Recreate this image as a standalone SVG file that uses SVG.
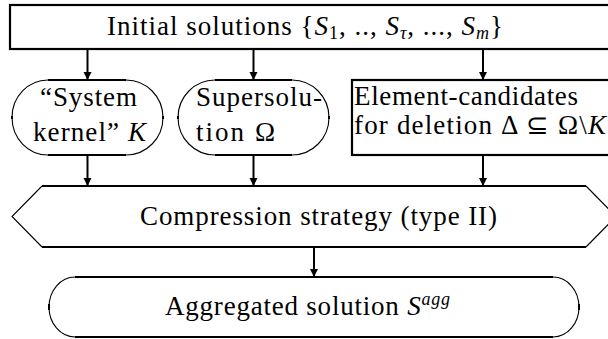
<svg xmlns="http://www.w3.org/2000/svg" width="608" height="339" viewBox="0 0 608 339">
<defs>
<marker id="ah" markerWidth="8" markerHeight="12" refX="7" refY="4" orient="auto" markerUnits="userSpaceOnUse">
<path d="M0,0 L8,4 L0,8 Z" fill="#000"/>
</marker>
<style>
.thick{fill:none;stroke:#000;stroke-width:2.2}
.thin{fill:none;stroke:#000;stroke-width:1.1}
.tick{fill:none;stroke:#000;stroke-width:2}
text{font-family:'Liberation Serif','Times New Roman',serif;font-size:27px;fill:#000}
.i{font-style:italic}
.conn{fill:none;stroke:#000;stroke-width:2}
</style>
</defs>
<rect width="608" height="339" fill="#fff"/>
<g id="initial">
<rect class="thick" x="10" y="5" width="610" height="44"/>
<text x="107" y="35" textLength="396" lengthAdjust="spacing">Initial solutions {<tspan class="i">S</tspan><tspan font-size="18" dy="4">1</tspan><tspan dy="-4">, .., </tspan><tspan class="i">S</tspan><tspan class="i" font-size="18" dy="4">τ</tspan><tspan dy="-4">, ..., </tspan><tspan class="i">S</tspan><tspan class="i" font-size="18" dy="4">m</tspan><tspan dy="-4">}</tspan></text>
</g>
<g id="kernel">
<path class="thick" d="M48,80 H126 M48,155 H126"/>
<path class="thin" d="M48,80 A36,37.5 0 0 0 48,155 M126,80 A37,37.5 0 0 1 126,155"/>
<path class="tick" d="M12,116 V119 M163,116 V119"/>
<text x="40" y="106" textLength="97" lengthAdjust="spacing">“System</text>
<text x="33" y="141" textLength="113" lengthAdjust="spacing">kernel” <tspan class="i">K</tspan></text>
</g>
<g id="supersolution">
<path class="thick" d="M215,80 H292 M215,155 H292"/>
<path class="thin" d="M215,80 A37,37.5 0 0 0 215,155 M292,80 A37,37.5 0 0 1 292,155"/>
<path class="tick" d="M178,116 V119 M329,116 V119"/>
<text x="196" y="106" textLength="126" lengthAdjust="spacing">Supersolu-</text>
<text x="196" y="141" textLength="79" lengthAdjust="spacing">tion Ω</text>
</g>
<g id="candidates">
<rect class="thick" x="352" y="80" width="270" height="75"/>
<text x="354" y="105" font-size="22" textLength="224" lengthAdjust="spacing">Element-candidates</text>
<text x="354" y="134" font-size="22" textLength="252" lengthAdjust="spacing">for deletion Δ ⊆ Ω\<tspan class="i">K</tspan></text>
</g>
<g id="compression">
<path class="thick" d="M42,186 H586 M42,247 H586"/>
<path class="thin" d="M42,186 L12,216.5 L42,247 M586,186 L616,216.5 L586,247"/>
<text x="140" y="225" textLength="357" lengthAdjust="spacing">Compression strategy (type II)</text>
</g>
<g id="aggregated">
<path class="thick" d="M75,277 H553 M75,337 H553"/>
<path class="thin" d="M75,277 A26,30 0 0 0 75,337 M553,277 A26,30 0 0 1 553,337"/>
<path class="tick" d="M49,304 V310 M579,304 V310"/>
<text x="165" y="315" textLength="285" lengthAdjust="spacing">Aggregated solution <tspan class="i">S</tspan><tspan class="i" font-size="18" dy="-10">agg</tspan></text>
</g>
<g id="connectors">
<path class="conn" d="M87.5,49 V79" marker-end="url(#ah)"/>
<path class="conn" d="M253.5,49 V79" marker-end="url(#ah)"/>
<path class="conn" d="M483,49 V79" marker-end="url(#ah)"/>
<path class="conn" d="M87.5,155 V185" marker-end="url(#ah)"/>
<path class="conn" d="M253.5,155 V185" marker-end="url(#ah)"/>
<path class="conn" d="M483,155 V185" marker-end="url(#ah)"/>
<path class="conn" d="M314,247 V276" marker-end="url(#ah)"/>
</g>
</svg>
